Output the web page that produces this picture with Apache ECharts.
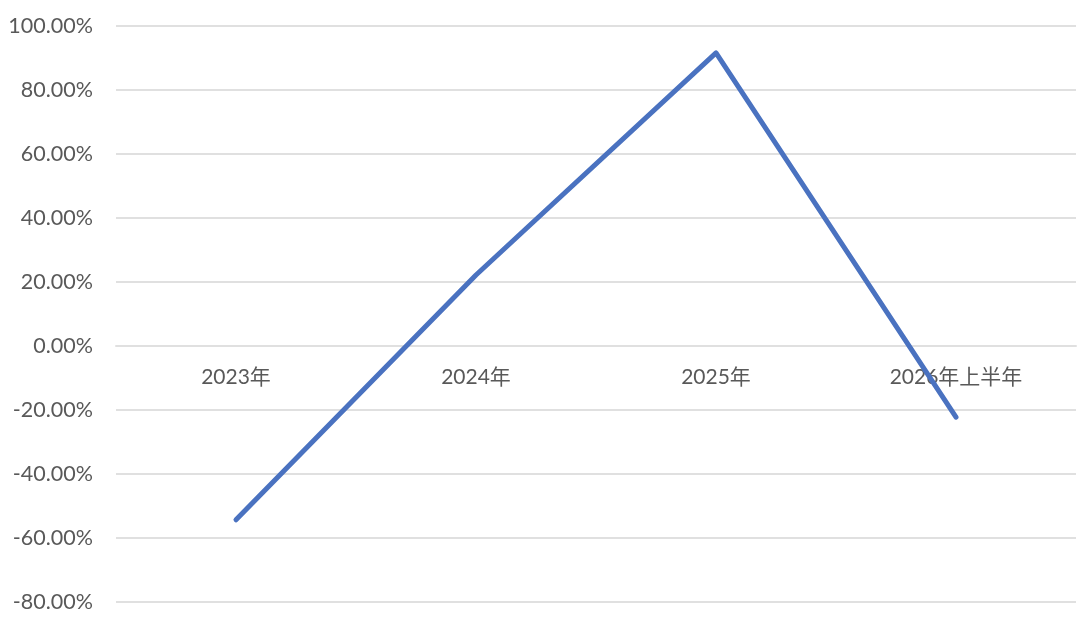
<!DOCTYPE html>
<html>
<head>
<meta charset="utf-8">
<script src="https://cdn.jsdelivr.net/npm/echarts@6/dist/echarts.min.js"></script>
<style>html,body{margin:0;padding:0;background:#fff;}#c{width:1080px;height:622px;}</style>
</head>
<body>
<div id="c"></div>
<script>
const categories = ['2023年', '2024年', '2025年', '2026年上半年'];
const growth = [-54.3, 22.2, 91.6, -22.2];
const yTicks = { min: -80, max: 100, interval: 20 };

const chart = echarts.init(document.getElementById('c'), null, { renderer: 'canvas' });
chart.setOption({
  animation: false,
  backgroundColor: '#ffffff',
  grid: { left: 116, right: 4, top: 26, bottom: 20, containLabel: false, outerBoundsMode: 'none' },
  xAxis: {
    type: 'category',
    data: categories,
    boundaryGap: true,
    position: 'bottom',
    offset: -256,
    axisLine: { show: true, onZero: false, lineStyle: { color: '#e0e0e0', width: 2 } },
    axisTick: { show: false },
    axisLabel: { color: '#595959', fontSize: 21, fontFamily: 'Lato, "Noto Sans CJK SC", sans-serif', margin: 21 }
  },
  yAxis: {
    type: 'value',
    min: yTicks.min, max: yTicks.max, interval: yTicks.interval,
    axisLine: { show: false },
    axisTick: { show: false },
    splitLine: { lineStyle: { color: '#e0e0e0', width: 2 } },
    axisLabel: {
      color: '#595959', fontSize: 21.5, fontFamily: 'Lato, sans-serif', margin: 23,
      formatter: v => v.toFixed(2) + '%'
    }
  },
  series: [{
    type: 'line',
    data: growth,
    symbol: 'none',
    lineStyle: { color: '#4a72c0', width: 5, cap: 'round', join: 'round' },
    z: 3
  }]
});
</script>
</body>
</html>
